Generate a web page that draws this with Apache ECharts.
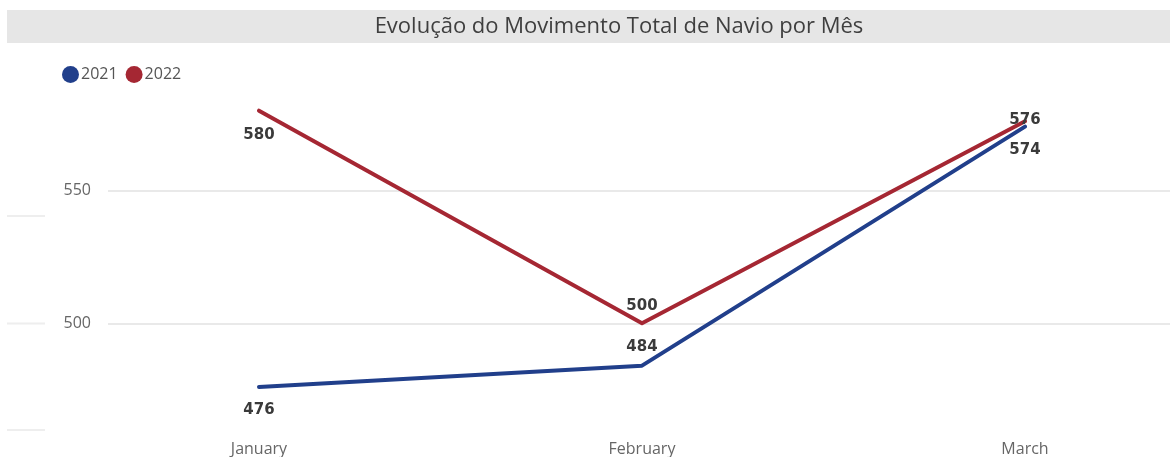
<!DOCTYPE html>
<html>
<head>
<meta charset="utf-8">
<script src="https://cdn.jsdelivr.net/npm/echarts@6/dist/echarts.min.js"></script>
<style>
html,body{margin:0;padding:0;background:#fff;}
#c{width:1170px;height:457px;}
</style>
</head>
<body>
<div id="c"></div>
<script>
const titleText = 'Evolução do Movimento Total de Navio por Mês';
const months = ['January', 'February', 'March'];
const values2021 = [476, 484, 574];
const values2022 = [580, 500, 576];
const seriesNames = ['2021', '2022'];
const yTicks = [500, 550];

const colors = ['#213F8B', '#A52733'];
// label placement per point (style, not data)
const place2021 = [['bottom', 16], ['top', 11], ['bottom', 16]];
const place2022 = [['bottom', 17], ['top', 10], ['top', -6]];

function makeData(vals, place) {
  return vals.map((v, i) => ({
    value: v,
    label: { position: place[i][0], distance: place[i][1] }
  }));
}

const chart = echarts.init(document.getElementById('c'), null, { renderer: 'canvas' });
const labelStyle = {
  show: true,
  color: '#3A3A3A',
  fontSize: 15,
  fontWeight: 'bold',
  fontFamily: 'DejaVu Sans'
};
const gridTop = 57.5, gridBottom = 0.5;
chart.setOption({
  animation: false,
  graphic: [
    { type: 'rect', shape: { x: 7, y: 10, width: 1163, height: 33 }, style: { fill: '#E6E6E6' }, silent: true },
    { type: 'text', x: 619, y: 27, style: { text: titleText, fill: '#3F3F3F', font: '22px "Open Sans"', textAlign: 'center', textVerticalAlign: 'middle' } },
    { type: 'line', shape: { x1: 7, y1: 216, x2: 45, y2: 216 }, style: { stroke: '#EEEEEE', lineWidth: 2 } },
    { type: 'line', shape: { x1: 7, y1: 323.5, x2: 45, y2: 323.5 }, style: { stroke: '#EEEEEE', lineWidth: 2 } },
    { type: 'line', shape: { x1: 7, y1: 430, x2: 45, y2: 430 }, style: { stroke: '#EEEEEE', lineWidth: 2 } }
  ],
  legend: {
    left: 57, top: 61,
    icon: 'circle',
    itemWidth: 17, itemHeight: 17, itemGap: 8,
    textStyle: { color: '#555', fontSize: 16, fontFamily: 'Open Sans', padding: [0, 0, 0, -3] },
    data: seriesNames
  },
  grid: [
    { left: 259, right: 145, top: gridTop, bottom: gridBottom },
    { left: 108, right: 0, top: gridTop, bottom: gridBottom }
  ],
  xAxis: [
    {
      type: 'category', gridIndex: 0, data: months, boundaryGap: false,
      axisLine: { show: false }, axisTick: { show: false },
      axisLabel: { color: '#666', fontSize: 16, fontFamily: 'Open Sans', margin: -15 }
    },
    { type: 'value', gridIndex: 1, min: 0, max: 1, show: false }
  ],
  yAxis: [
    { type: 'value', gridIndex: 0, min: 450, max: 600, interval: 50, show: false },
    {
      type: 'value', gridIndex: 1, min: 450, max: 600, interval: 50,
      axisLine: { show: false }, axisTick: { show: false },
      axisLabel: {
        color: '#666', fontSize: 16, fontFamily: 'Open Sans', margin: 17,
        showMinLabel: false, showMaxLabel: false,
        formatter: v => (yTicks.indexOf(v) >= 0 ? String(v) : '')
      },
      splitLine: { show: true, showMinLine: false, showMaxLine: false, lineStyle: { color: '#E9E9E9', width: 2 } }
    }
  ],
  series: [
    {
      name: seriesNames[0], type: 'line', xAxisIndex: 0, yAxisIndex: 0,
      data: makeData(values2021, place2021),
      color: colors[0], symbol: 'circle', symbolSize: 0, showSymbol: true,
      lineStyle: { width: 4, cap: 'round', join: 'round' },
      label: labelStyle, z: 3
    },
    {
      name: seriesNames[1], type: 'line', xAxisIndex: 0, yAxisIndex: 0,
      data: makeData(values2022, place2022),
      color: colors[1], symbol: 'circle', symbolSize: 0, showSymbol: true,
      lineStyle: { width: 4, cap: 'round', join: 'round' },
      label: labelStyle, z: 2
    }
  ]
});
</script>
</body>
</html>
